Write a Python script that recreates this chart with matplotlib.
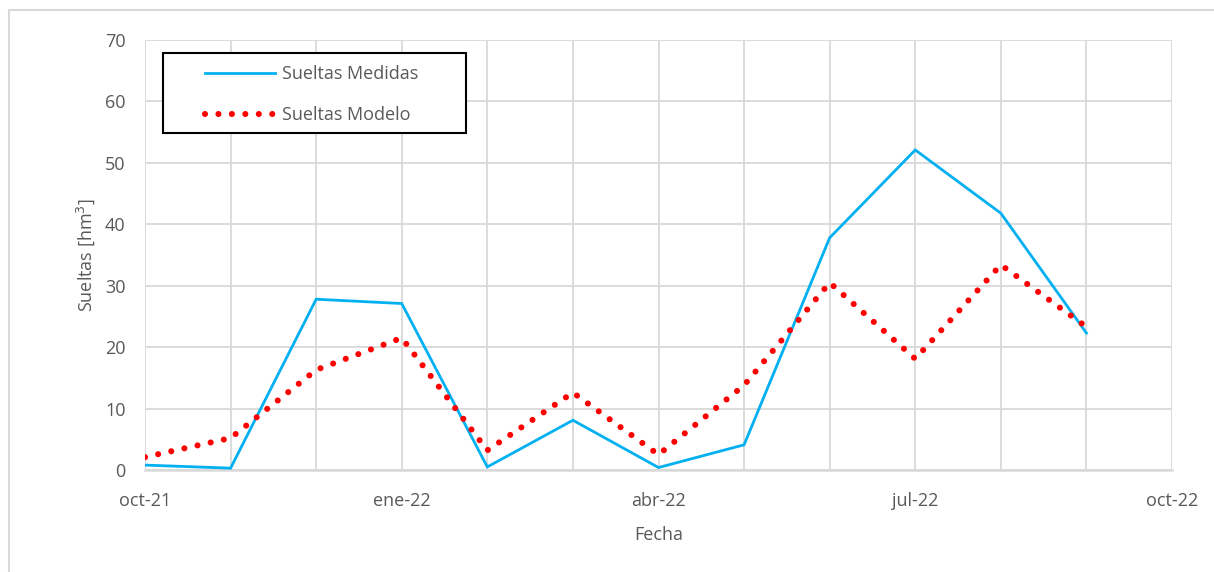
import matplotlib
matplotlib.use("Agg")
import matplotlib.pyplot as plt
from matplotlib.patches import Rectangle

# Monthly series, oct-21 .. sep-22
months = ["oct-21", "nov-21", "dic-21", "ene-22", "feb-22", "mar-22",
          "abr-22", "may-22", "jun-22", "jul-22", "ago-22", "sep-22"]
sueltas_medidas = [0.8, 0.3, 27.8, 27.1, 0.5, 8.1, 0.4, 4.1, 37.8, 52.1, 41.8, 22.3]
sueltas_modelo = [2.1, 5.2, 16.3, 21.5, 3.2, 12.6, 2.5, 13.8, 30.5, 18.1, 33.4, 23.3]

tick_labels = ["oct-21", "ene-22", "abr-22", "jul-22", "oct-22"]
tick_step = 3
n_slots = 12

W, H = 1214, 572
plt.rcParams["font.family"] = ["Open Sans", "DejaVu Sans"]
text_color = "#595959"
grid_color = "#D9D9D9"

fig = plt.figure(figsize=(W / 100, H / 100), dpi=100)
fig.patch.set_facecolor("white")

# outer chart frame
fig.patches.append(Rectangle((9 / W, -0.05), 1.2, 1 - 10 / H + 0.05,
                             transform=fig.transFigure, fill=False,
                             edgecolor=grid_color, linewidth=1.5, zorder=0))

ax = fig.add_axes([145 / W, 1 - 470 / H, (1172 - 145) / W, (470 - 40) / H])

x = list(range(len(months)))
ax.plot(x, sueltas_medidas, color="#00B0F0", linewidth=2.0,
        solid_joinstyle="miter", label="Sueltas Medidas", zorder=3)
ax.plot(x, sueltas_modelo, color="#FF0000", linewidth=4.4,
        linestyle=(0, (0.001, 2.2)), dash_capstyle="round",
        label="Sueltas Modelo", zorder=4)

ax.set_xlim(0, n_slots)
ax.set_ylim(0, 70)
ax.set_yticks(range(0, 71, 10))
ax.set_xticks(range(0, n_slots + 1, tick_step))
ax.set_xticklabels(tick_labels)
ax.set_xticks(range(0, n_slots + 1), minor=True)

ax.grid(True, which="both", axis="x", color=grid_color, linewidth=1.3, zorder=0)
ax.grid(True, which="major", axis="y", color=grid_color, linewidth=1.3, zorder=0)
ax.set_axisbelow(True)

for side in ("top", "right", "left"):
    ax.spines[side].set_visible(False)
ax.spines["bottom"].set_color(grid_color)
ax.spines["bottom"].set_linewidth(1.8)

ax.tick_params(axis="both", which="both", length=0, labelsize=13,
               labelcolor=text_color)
ax.tick_params(axis="y", pad=14)
ax.tick_params(axis="x", pad=16)

ax.set_xlabel("Fecha", fontsize=13, color=text_color, labelpad=11)
ax.set_ylabel("Sueltas [hm$^3$]", fontsize=13, color=text_color, labelpad=5.5)

# legend box
fig.patches.append(Rectangle((163 / W, 1 - 133 / H), 303 / W, 80 / H,
                             transform=fig.transFigure, facecolor="white",
                             edgecolor="black", linewidth=1.5, zorder=5))
leg = ax.legend(loc="upper left", bbox_to_anchor=(205 / W, 1 - 65 / H),
                bbox_transform=fig.transFigure, frameon=False, fontsize=13,
                handlelength=3.85, handletextpad=0.4, labelspacing=1.3,
                borderpad=0, borderaxespad=0)
for t in leg.get_texts():
    t.set_color(text_color)
leg.set_zorder(6)
leg.remove()
fig.add_artist(leg)

fig.savefig("out.png", dpi=100)
